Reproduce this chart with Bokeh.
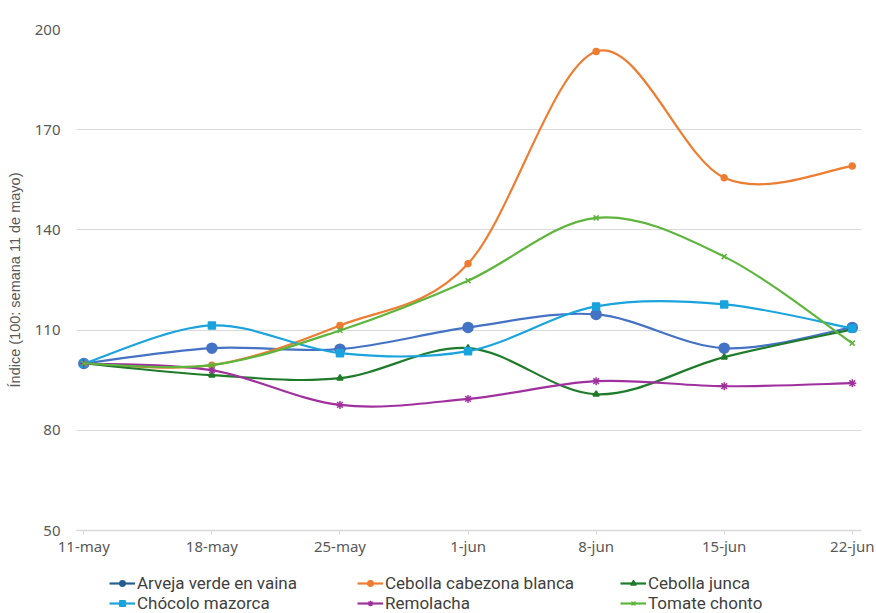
import numpy as np
from bokeh.plotting import figure
from bokeh.layouts import column
from bokeh.models import FixedTicker, Legend, LegendItem, Range1d
from bokeh.embed import file_html
from bokeh.resources import INLINE

fechas = ["11-may", "18-may", "25-may", "1-jun", "8-jun", "15-jun", "22-jun"]
arveja = [100.0, 104.6, 104.3, 110.8, 114.7, 104.6, 110.8]
cebolla_cabezona = [100.0, 99.5, 111.4, 129.9, 193.4, 155.6, 159.1]
cebolla_junca = [100.0, 96.5, 95.6, 104.6, 90.8, 101.9, 110.2]
chocolo = [100.0, 111.4, 103.1, 103.7, 117.1, 117.7, 110.5]
remolacha = [100.0, 98.0, 87.6, 89.4, 94.7, 93.2, 94.1]
tomate = [100.0, 99.5, 109.9, 124.8, 143.6, 132.0, 106.1]
y_ticks = [50, 80, 110, 140, 170, 200]

series = [
    ("Arveja verde en vaina", arveja, "#4472C4", "#255E91", "circle", 10, 7),
    ("Cebolla cabezona blanca", cebolla_cabezona, "#ED7D31", "#ED7D31", "circle", 6, 5),
    ("Cebolla junca", cebolla_junca, "#1E7B2A", "#1E7B2A", "triangle", 6, 5),
    ("Chócolo mazorca", chocolo, "#1AA3DC", "#1AA3DC", "square", 7, 5),
    ("Remolacha", remolacha, "#A0309E", "#A0309E", "asterisk", 8, 6),
    ("Tomate chonto", tomate, "#5DB53C", "#5DB53C", "x", 7, 5),
]

p = figure(width=876, height=562, output_backend="svg", toolbar_location=None,
           x_range=Range1d(-0.057, 6.072), y_range=Range1d(50, 200),
           min_border_left=76, min_border_right=15, min_border_top=29,
           min_border_bottom=32)
p.outline_line_color = None
p.background_fill_color = "white"
p.border_fill_color = "white"

# legend-only figure below the chart
q = figure(width=876, height=51, output_backend="svg", toolbar_location=None,
           x_axis_location=None, y_axis_location=None,
           x_range=Range1d(-0.057, 6.072), y_range=Range1d(50, 200),
           min_border_left=0, min_border_right=0, min_border_top=0,
           min_border_bottom=0)
q.outline_line_color = None
q.xgrid.grid_line_color = None
q.ygrid.grid_line_color = None
q.border_fill_color = "white"

xs = np.arange(len(fechas), dtype=float)

items = []
for name, vals, col, lcol, marker, size, lsize in series:
    y = np.array(vals, dtype=float)
    prev_x = np.concatenate([[xs[0]], xs[:-1]])
    prev_y = np.concatenate([[y[0]], y[:-1]])
    next_x = np.concatenate([xs[1:], [xs[-1]]])
    next_y = np.concatenate([y[1:], [y[-1]]])
    tx = (next_x - prev_x) / 6.0
    ty = (next_y - prev_y) / 6.0
    p.bezier(x0=xs[:-1], y0=y[:-1], x1=xs[1:], y1=y[1:],
             cx0=xs[:-1] + tx[:-1], cy0=y[:-1] + ty[:-1],
             cx1=xs[1:] - tx[1:], cy1=y[1:] - ty[1:],
             line_color=col, line_width=2.2)
    p.scatter(xs, y, marker=marker, size=size, fill_color=col, line_color=col, line_width=1.5)
    lr = q.line(xs, y, line_color=lcol, line_width=2.2, visible=False)
    lm = q.scatter(xs, y, marker=marker, size=lsize, fill_color=lcol, line_color=lcol,
                   line_width=1.3, visible=False)
    items.append(LegendItem(label=name, renderers=[lr, lm]))

p.yaxis.ticker = FixedTicker(ticks=y_ticks)
p.xaxis.ticker = FixedTicker(ticks=list(xs))
p.xaxis.major_label_overrides = {i: f for i, f in enumerate(fechas)}

p.ygrid.grid_line_color = "#D9D9D9"
p.ygrid.grid_line_width = 1
p.xgrid.grid_line_color = None

p.yaxis.axis_line_color = None
p.yaxis.major_tick_line_color = None
p.yaxis.major_tick_out = 0
p.yaxis.major_tick_in = 0
p.yaxis.minor_tick_line_color = None
p.yaxis.minor_tick_out = 0
p.yaxis.major_label_text_font = "Noto Sans"
p.yaxis.major_label_text_font_size = "15px"
p.yaxis.major_label_text_color = "#595959"
p.yaxis.major_label_standoff = 16
p.yaxis.axis_label = "Índice (100: semana 11 de mayo)"
p.yaxis.axis_label_text_font = "Liberation Sans"
p.yaxis.axis_label_text_font_style = "normal"
p.yaxis.axis_label_text_font_size = "14.5px"
p.yaxis.axis_label_text_color = "#595959"
p.yaxis.axis_label_standoff = 9

p.xaxis.axis_line_color = "#D9D9D9"
p.xaxis.axis_line_width = 1.5
p.xaxis.major_tick_line_color = "#D9D9D9"
p.xaxis.major_tick_in = 0
p.xaxis.major_tick_out = 4
p.xaxis.minor_tick_line_color = None
p.xaxis.minor_tick_out = 0
p.xaxis.major_label_text_font = "Noto Sans"
p.xaxis.major_label_text_font_size = "15px"
p.xaxis.major_label_text_color = "#595959"
p.xaxis.major_label_standoff = 1

# column offsets relative to the (aligned) frame left edge
col_x = [33, 281, 544]
for c in range(3):
    lg = Legend(items=[items[c], items[c + 3]],
                label_text_font="Roboto", label_text_font_size="17px",
                label_text_color="#404040", glyph_width=26, glyph_height=14,
                label_standoff=2, spacing=0, padding=0, margin=0,
                border_line_color=None, background_fill_alpha=0,
                label_height=18, location=(col_x[c], 0))
    q.add_layout(lg, "center")

layout = column(p, q, spacing=0)
open("out.html", "w").write(file_html(layout, INLINE))
